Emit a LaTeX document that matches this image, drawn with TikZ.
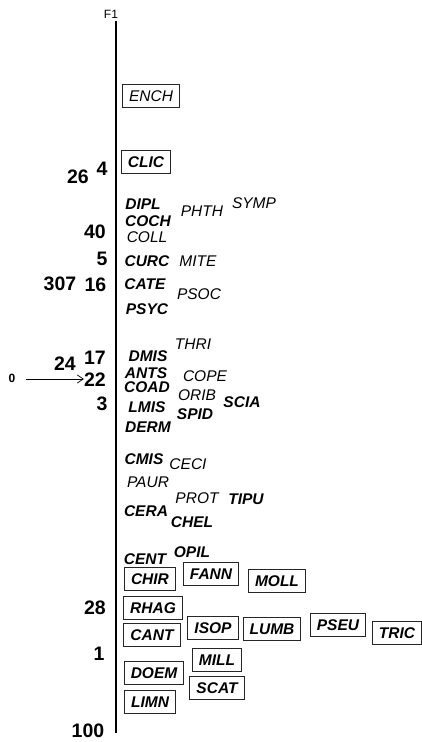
\documentclass[tikz,border=0pt]{standalone}
\usepackage{fontspec}
\setmainfont{Liberation Sans}
\usetikzlibrary{arrows.meta}

\tikzset{
  taxon/.style={font=\fontsize{15.5}{15.5}\selectfont\itshape, inner sep=0pt},
  taxonb/.style={font=\fontsize{15.5}{15.5}\selectfont\bfseries\itshape, inner sep=0pt},
  boxed/.style={draw=black!85, line width=1pt, inner xsep=6.5pt, inner ysep=6.5pt},
  score/.style={font=\fontsize{19.5}{19.5}\selectfont\bfseries, inner sep=0pt}
}

\begin{document}
\begin{tikzpicture}[x=1pt, y=-1pt]
  \useasboundingbox (0,0) rectangle (421,742);

  % Axis
  \coordinate (AxTop) at (116, 21);
  \coordinate (AxBot) at (116, 733);
  \draw[line width=2.6pt] (AxTop) -- (AxBot);
  \node[font=\fontsize{12}{12}\selectfont, inner sep=0pt] (F1) at (111, 14) {F1};

  % Scores left of the axis
  \node[score] (s26) at (78, 177) {26};
  \node[score] (s4) at (102, 169) {4};
  \node[score] (s40) at (95, 232) {40};
  \node[score] (s5) at (102, 259) {5};
  \node[score] (s307) at (60, 284) {307};
  \node[score] (s16) at (95.5, 285) {16};
  \node[score] (s17) at (95, 358) {17};
  \node[score] (s24) at (65, 364) {24};
  \node[score] (s22) at (95, 380) {22};
  \node[score] (s3) at (102, 404) {3};
  \node[score] (s28) at (95, 608) {28};
  \node[score] (s1) at (99, 654) {1};
  \node[score] (s100) at (88, 731) {100};

  % Zero marker pointing to 22
  \node[font=\fontsize{12}{12}\selectfont\bfseries, inner sep=0pt] (zero) at (12, 378) {0};
  \draw[-{Straight Barb[length=6pt, width=8pt]}, line width=0.7pt]
    (zero.east) ++(10,1) coordinate (ArrStart) -- (s22.west |- ArrStart);

  % Upper taxa
  \node[taxon, boxed] (ENCH) at (151, 96) {ENCH};
  \node[taxonb, boxed] (CLIC) at (146, 162) {CLIC};
  \node[taxonb] (DIPL) at (143, 204) {DIPL};
  \node[taxonb] (COCH) at (148, 221) {COCH};
  \node[taxon] (PHTH) at (202, 211) {PHTH};
  \node[taxon] (SYMP) at (254, 203) {SYMP};
  \node[taxon] (COLL) at (147, 237) {COLL};
  \node[taxonb] (CURC) at (147, 261) {CURC};
  \node[taxon] (MITE) at (198, 261) {MITE};
  \node[taxonb] (CATE) at (145, 284) {CATE};
  \node[taxon] (PSOC) at (199, 294) {PSOC};
  \node[taxonb] (PSYC) at (147, 309) {PSYC};

  % Middle taxa
  \node[taxon] (THRI) at (193, 344) {THRI};
  \node[taxonb] (DMIS) at (148, 356) {DMIS};
  \node[taxonb] (ANTS) at (146, 373) {ANTS};
  \node[taxon] (COPE) at (205, 376) {COPE};
  \node[taxonb] (COAD) at (147, 387) {COAD};
  \node[taxon] (ORIB) at (197, 395) {ORIB};
  \node[taxonb] (SCIA) at (242, 402) {SCIA};
  \node[taxonb] (LMIS) at (147, 407) {LMIS};
  \node[taxonb] (SPID) at (195, 414) {SPID};
  \node[taxonb] (DERM) at (148, 427) {DERM};
  \node[taxonb] (CMIS) at (144, 459) {CMIS};
  \node[taxon] (CECI) at (188, 464) {CECI};
  \node[taxon] (PAUR) at (148, 482) {PAUR};
  \node[taxon] (PROT) at (197, 498) {PROT};
  \node[taxonb] (TIPU) at (246, 499) {TIPU};
  \node[taxonb] (CERA) at (146, 511) {CERA};
  \node[taxonb] (CHEL) at (192, 522) {CHEL};
  \node[taxonb] (OPIL) at (192, 552) {OPIL};
  \node[taxonb] (CENT) at (145, 559) {CENT};

  % Lower boxed taxa
  \node[taxonb, boxed] (CHIR) at (150, 579) {CHIR};
  \node[taxonb, boxed] (FANN) at (211, 574) {FANN};
  \node[taxonb, boxed] (MOLL) at (277, 581) {MOLL};
  \node[taxonb, boxed] (RHAG) at (153, 608) {RHAG};
  \node[taxonb, boxed] (CANT) at (152, 635) {CANT};
  \node[taxonb, boxed] (ISOP) at (213, 628) {ISOP};
  \node[taxonb, boxed] (LUMB) at (272, 629) {LUMB};
  \node[taxonb, boxed] (PSEU) at (338, 625) {PSEU};
  \node[taxonb, boxed] (TRIC) at (397, 633) {TRIC};
  \node[taxonb, boxed] (MILL) at (217, 660) {MILL};
  \node[taxonb, boxed] (DOEM) at (154, 673) {DOEM};
  \node[taxonb, boxed] (SCAT) at (217, 688) {SCAT};
  \node[taxonb, boxed] (LIMN) at (150, 702) {LIMN};
\end{tikzpicture}
\end{document}
